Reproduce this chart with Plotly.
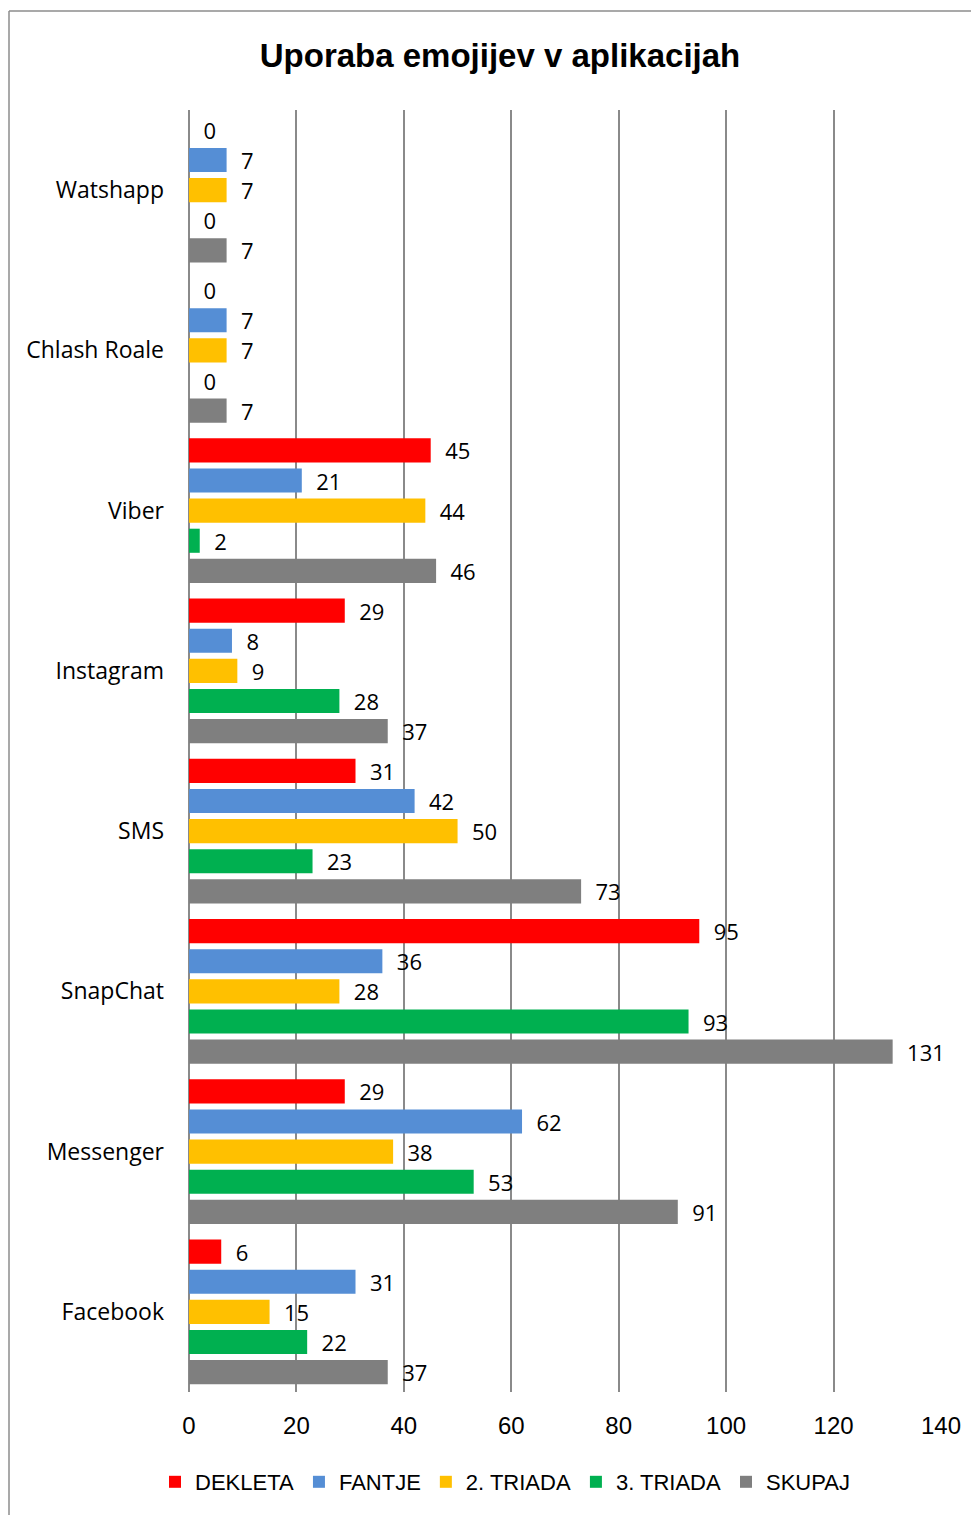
import plotly.graph_objects as go

categories = ["Watshapp", "Chlash Roale", "Viber", "Instagram", "SMS", "SnapChat", "Messenger", "Facebook"]
series_names = ["DEKLETA", "FANTJE", "2. TRIADA", "3. TRIADA", "SKUPAJ"]
dekleta = [0, 0, 45, 29, 31, 95, 29, 6]
fantje = [7, 7, 21, 8, 42, 36, 62, 31]
triada2 = [7, 7, 44, 9, 50, 28, 38, 15]
triada3 = [0, 0, 2, 28, 23, 93, 53, 22]
skupaj = [7, 7, 46, 37, 73, 131, 91, 37]
colors = ["#FF0000", "#558ED5", "#FFC000", "#00B050", "#7F7F7F"]
tick_vals = [0, 20, 40, 60, 80, 100, 120, 140]

# page body has an 8px margin, so work in page pixels minus 8
OFF = 8
W, H = 979 - OFF, 1515 - OFF
L = 189 - OFF
T = 110 - OFF
R = W - (941 - OFF)
B = H - (1392 - OFF)

pad = "\u00a0\u00a0"
fig = go.Figure()
for name, vals, col in zip(series_names, [dekleta, fantje, triada2, triada3, skupaj], colors):
    fig.add_trace(go.Bar(
        y=categories, x=vals, name=name, orientation="h",
        marker=dict(color=col, line=dict(width=0)),
        text=[pad + str(v) for v in vals], textposition="outside",
        constraintext="none",
        textfont=dict(family="Open Sans", size=22, color="#000000"),
        cliponaxis=False,
    ))

pw = W - L - R
ph = H - T - B
def px2x(px):
    return (px - OFF - L) / pw
def py2y(py):
    return (H - B - (py - OFF)) / ph

narrow = "Liberation Sans Narrow, Arial Narrow, sans-serif"
fig.update_layout(
    width=W, height=H,
    margin=dict(l=L, r=R, t=T, b=B),
    paper_bgcolor="white", plot_bgcolor="white",
    barmode="group", bargap=0.06, bargroupgap=0.2,
    title=dict(text="<b>Uporaba emojijev v aplikacijah</b>", xref="container", x=(500 - OFF) / W,
               xanchor="center", yref="container", y=1 - (55 - OFF) / H, yanchor="middle",
               font=dict(family=narrow, size=33, color="#000000")),
    xaxis=dict(range=[0, 140], tickvals=tick_vals, showgrid=True, gridcolor="#8A8A8A", gridwidth=2,
               zeroline=True, zerolinecolor="#8A8A8A", zerolinewidth=2, showline=False,
               tickfont=dict(family=narrow, size=24, color="#000000"),
               ticks="", ticklabelstandoff=17),
    yaxis=dict(categoryorder="array", categoryarray=categories, autorange="reversed",
               showgrid=False, showline=False, ticks="",
               tickfont=dict(family="Open Sans", size=23, color="#000000"), ticklabelstandoff=24),
    legend=dict(orientation="h", xref="container", x=(505 - OFF) / W, xanchor="center",
                yref="container", y=1 - (1482 - OFF) / H, yanchor="middle",
                font=dict(family=narrow, size=22, color="#000000"),
                itemwidth=30, traceorder="normal"),
    showlegend=True,
)

# chart border (left and top edges visible)
fig.add_shape(type="line", xref="paper", yref="paper", x0=px2x(9), x1=px2x(9), y0=py2y(11), y1=py2y(1530),
              line=dict(color="#8C8C8C", width=1.5))
fig.add_shape(type="line", xref="paper", yref="paper", x0=px2x(9), x1=px2x(1000), y0=py2y(11), y1=py2y(11),
              line=dict(color="#8C8C8C", width=1.5))

fig.write_html("out.html")
